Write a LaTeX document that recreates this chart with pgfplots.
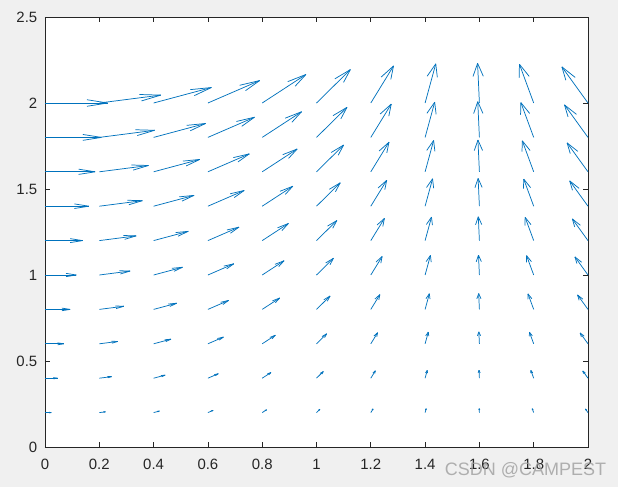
\documentclass[border=0pt]{standalone}
\usepackage{pgfplots}
\usepackage{pgfplotstable}
\pgfplotsset{compat=1.18}
\usepackage{fontspec}
\setmainfont{Liberation Sans}
\definecolor{mblue}{RGB}{0,114,189}
\definecolor{mgray}{RGB}{38,38,38}
\definecolor{figbg}{RGB}{240,240,240}

\pgfplotstableread{
x y u v
0 0.2 0.0231 0
0 0.4 0.0462 0
0 0.6 0.0693 0
0 0.8 0.0924 0
0 1.0 0.1155 0
0 1.2 0.1386 0
0 1.4 0.1616 0
0 1.6 0.1847 0
0 1.8 0.2078 0
0 2.0 0.2309 0
0.2 0.2 0.02263 0.00459
0.2 0.4 0.04526 0.00918
0.2 0.6 0.06790 0.01376
0.2 0.8 0.09053 0.01835
0.2 1.0 0.11316 0.02294
0.2 1.2 0.13579 0.02753
0.2 1.4 0.15842 0.03211
0.2 1.6 0.18106 0.03670
0.2 1.8 0.20369 0.04129
0.2 2.0 0.22632 0.04588
0.4 0.2 0.02127 0.00899
0.4 0.4 0.04254 0.01798
0.4 0.6 0.06381 0.02698
0.4 0.8 0.08508 0.03597
0.4 1.0 0.10635 0.04496
0.4 1.2 0.12762 0.05395
0.4 1.4 0.14889 0.06294
0.4 1.6 0.17016 0.07194
0.4 1.8 0.19143 0.08093
0.4 2.0 0.21270 0.08992
0.6 0.2 0.01906 0.01304
0.6 0.4 0.03812 0.02608
0.6 0.6 0.05717 0.03911
0.6 0.8 0.07623 0.05215
0.6 1.0 0.09529 0.06519
0.6 1.2 0.11435 0.07823
0.6 1.4 0.13341 0.09127
0.6 1.6 0.15246 0.10430
0.6 1.8 0.17152 0.11734
0.6 2.0 0.19058 0.13038
0.8 0.2 0.01609 0.01657
0.8 0.4 0.03218 0.03313
0.8 0.6 0.04827 0.04970
0.8 0.8 0.06435 0.06626
0.8 1.0 0.08044 0.08283
0.8 1.2 0.09653 0.09939
0.8 1.4 0.11262 0.11596
0.8 1.6 0.12871 0.13252
0.8 1.8 0.14480 0.14909
0.8 2.0 0.16088 0.16565
1.0 0.2 0.01248 0.01943
1.0 0.4 0.02495 0.03886
1.0 0.6 0.03743 0.05829
1.0 0.8 0.04991 0.07772
1.0 1.0 0.06238 0.09716
1.0 1.2 0.07486 0.11659
1.0 1.4 0.08734 0.13602
1.0 1.6 0.09981 0.15545
1.0 1.8 0.11229 0.17488
1.0 2.0 0.12477 0.19431
1.2 0.2 0.00837 0.02152
1.2 0.4 0.01674 0.04305
1.2 0.6 0.02510 0.06457
1.2 0.8 0.03347 0.08609
1.2 1.0 0.04184 0.10761
1.2 1.2 0.05021 0.12914
1.2 1.4 0.05857 0.15066
1.2 1.6 0.06694 0.17218
1.2 1.8 0.07531 0.19370
1.2 2.0 0.08368 0.21523
1.4 0.2 0.00393 0.02276
1.4 0.4 0.00785 0.04551
1.4 0.6 0.01178 0.06827
1.4 0.8 0.01570 0.09102
1.4 1.0 0.01963 0.11378
1.4 1.2 0.02355 0.13654
1.4 1.4 0.02748 0.15929
1.4 1.6 0.03140 0.18205
1.4 1.8 0.03533 0.20480
1.4 2.0 0.03925 0.22756
1.6 0.2 -0.00067 0.02308
1.6 0.4 -0.00135 0.04616
1.6 0.6 -0.00202 0.06925
1.6 0.8 -0.00270 0.09233
1.6 1.0 -0.00337 0.11541
1.6 1.2 -0.00405 0.13849
1.6 1.4 -0.00472 0.16157
1.6 1.6 -0.00539 0.18466
1.6 1.8 -0.00607 0.20774
1.6 2.0 -0.00674 0.23082
1.8 0.2 -0.00525 0.02249
1.8 0.4 -0.01049 0.04498
1.8 0.6 -0.01574 0.06746
1.8 0.8 -0.02099 0.08995
1.8 1.0 -0.02623 0.11244
1.8 1.2 -0.03148 0.13493
1.8 1.4 -0.03672 0.15742
1.8 1.6 -0.04197 0.17991
1.8 1.8 -0.04722 0.20239
1.8 2.0 -0.05246 0.22488
2.0 0.2 -0.00961 0.02100
2.0 0.4 -0.01922 0.04200
2.0 0.6 -0.02883 0.06299
2.0 0.8 -0.03844 0.08399
2.0 1.0 -0.04805 0.10499
2.0 1.2 -0.05766 0.12599
2.0 1.4 -0.06727 0.14698
2.0 1.6 -0.07688 0.16798
2.0 1.8 -0.08649 0.18898
2.0 2.0 -0.09610 0.20998
}\vecdata

\begin{document}
\begin{tikzpicture}
\fill[figbg] (0pt,0pt) rectangle (463.5pt,365.25pt);
\begin{axis}[
  at={(33.75pt,30pt)}, anchor=south west,
  scale only axis, width=407.25pt, height=322.5pt,
  xmin=0, xmax=2, ymin=0, ymax=2.5,
  axis background/.style={fill=white},
  axis line style={mgray, line width=0.5pt},
  tick style={mgray, line width=0.5pt},
  tick align=inside, major tick length=3.75pt,
  xtick={0,0.2,0.4,0.6,0.8,1,1.2,1.4,1.6,1.8,2},
  ytick={0,0.5,1,1.5,2,2.5},
  /pgf/number format/assume math mode=true,
  tick label style={font=\fontsize{11.2}{13}\selectfont, text=mgray},
  xticklabel style={yshift=-5.5pt},
  yticklabel style={xshift=-2.3pt},
  clip=false,
]
\addplot[mblue, line width=0.55pt, quiver={u=\thisrow{u}, v=\thisrow{v}}]
  table[x=x, y=y]{\vecdata};
\addplot[mblue, line width=0.55pt,
  quiver={u={-0.33*(\thisrow{u}+0.25*\thisrow{v})}, v={-0.33*(\thisrow{v}-0.25*\thisrow{u})}}]
  table[x expr=\thisrow{x}+\thisrow{u}, y expr=\thisrow{y}+\thisrow{v}]{\vecdata};
\addplot[mblue, line width=0.55pt,
  quiver={u={-0.33*(\thisrow{u}-0.25*\thisrow{v})}, v={-0.33*(\thisrow{v}+0.25*\thisrow{u})}}]
  table[x expr=\thisrow{x}+\thisrow{u}, y expr=\thisrow{y}+\thisrow{v}]{\vecdata};
\end{axis}
\node[anchor=base west, inner sep=0pt, font=\fontsize{13.5}{14}\selectfont, text=black!38, opacity=0.8]
  at (333.5pt,8.5pt) {CSDN @CAMPEST};
\end{tikzpicture}
\end{document}
